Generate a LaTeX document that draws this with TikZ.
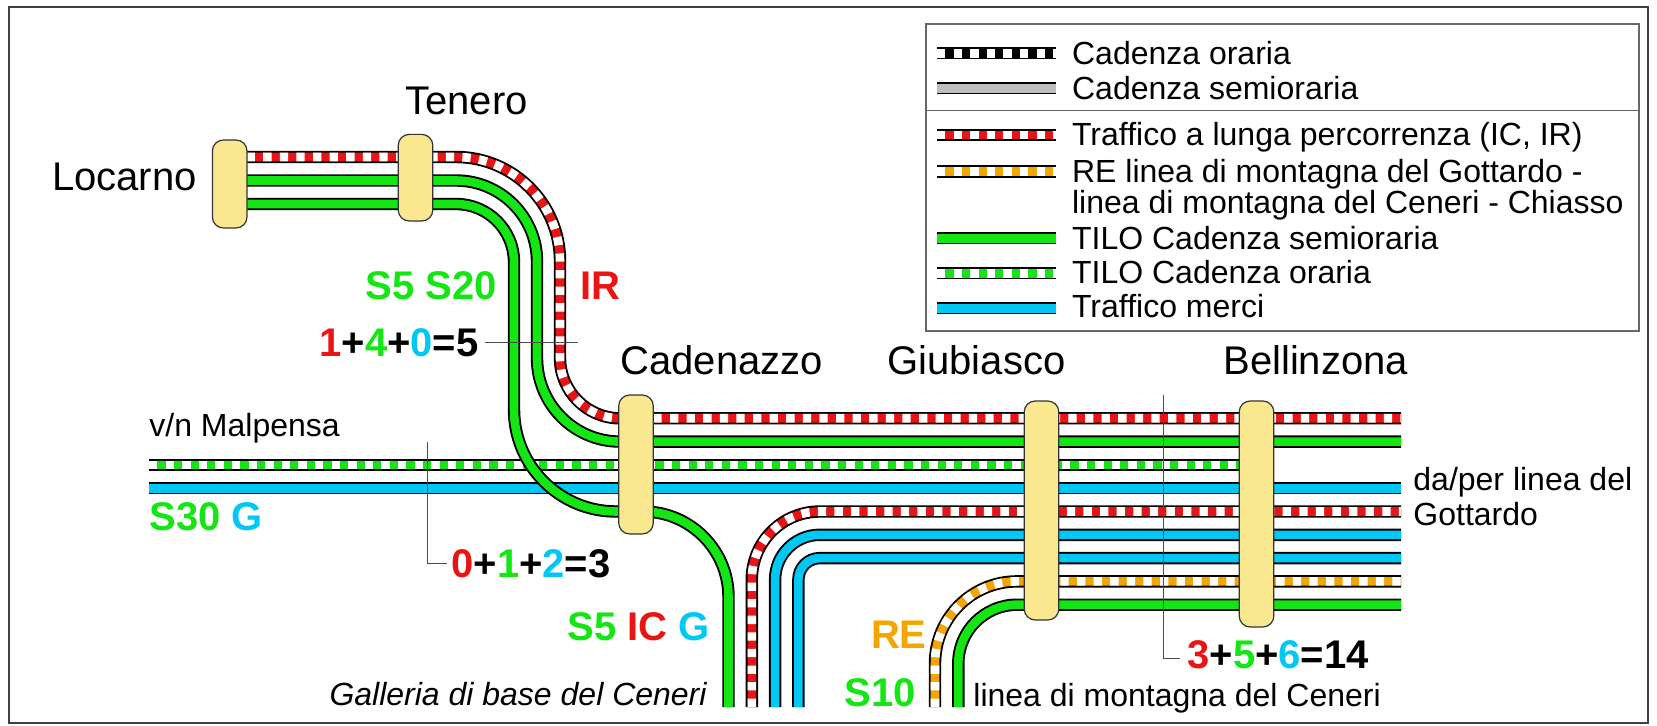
\documentclass[tikz,border=0pt]{standalone}
\usepackage{fontspec}
\setmainfont{Liberation Sans}
\definecolor{tred}{RGB}{235,20,20}
\definecolor{tgreen}{RGB}{20,230,20}
\definecolor{tblue}{RGB}{0,200,245}
\definecolor{torange}{RGB}{245,165,0}
\definecolor{tgray}{RGB}{190,190,190}
\definecolor{stnfill}{RGB}{250,232,145}
\begin{document}
\begin{tikzpicture}[x=0.5pt,y=-0.5pt,
  line/.style={line width=6.2pt, black, postaction={draw=#1, line width=4.3pt}},
  dline/.style={line width=6.2pt, black, postaction={draw=#1, line width=4.3pt,
    postaction={draw=white, line width=4.3pt, dash pattern=on 4.15pt off 4.15pt}}},
  stn/.style={draw=black!80, fill=stnfill, rounded corners=5.5pt, minimum width=17.3pt, inner sep=0pt, line width=0.6pt},
  lbl/.style={inner sep=0pt, anchor=base west, font=\fontsize{20pt}{24pt}\selectfont},
  bld/.style={inner sep=0pt, anchor=base west, font=\fontsize{20pt}{24pt}\selectfont\bfseries},
  sml/.style={inner sep=0pt, anchor=base west, font=\fontsize{16pt}{19pt}\selectfont},
  lead/.style={draw=black!70, line width=0.5pt}]
\useasboundingbox (0,0) rectangle (1657,726);
\draw[draw=black!75, line width=0.8pt] (9,7) rectangle (1648,723);

\draw[dline=tgreen] (149,464.9) -- (1256,464.9);
\draw[line=tblue] (149,488.2) -- (1401,488.2);
\draw[dline=tred] (230,157) -- (456,157) .. controls (513.4,157) and (560,203.6) .. (560,261) -- (560,358) .. controls (560,391.1) and (586.9,418.3) .. (620,418.3) -- (1401,418.3);
\draw[line=tgreen] (230,180.5) -- (456,180.5) .. controls (500.7,180.5) and (537,216.8) .. (537,261.5) -- (537,358) .. controls (537,404.2) and (574.2,441.6) .. (620,441.6) -- (1401,441.6);
\draw[line=tgreen] (230,204) -- (456,204) .. controls (488,204) and (514,230) .. (514,262) -- (514,409.5) .. controls (514,465.8) and (559.7,511.5) .. (616,511.5) -- (643,511.5) .. controls (690.2,511.5) and (728.5,549.8) .. (728.5,597) -- (728.5,707);
\draw[dline=tred] (751.8,707) -- (751.8,579.5) .. controls (751.8,541.9) and (782.2,511.5) .. (819.8,511.5) -- (1401,511.5);
\draw[line=tblue] (775.1,707) -- (775.1,579.5) .. controls (775.1,554.8) and (795.1,534.8) .. (819.8,534.8) -- (1401,534.8);
\draw[line=tblue] (798.4,707) -- (798.4,579.5) .. controls (798.4,567.7) and (808,558.1) .. (819.8,558.1) -- (1401,558.1);
\draw[dline=torange] (935,707) -- (935,663.4) .. controls (935,618.1) and (971.7,581.4) .. (1017,581.4) -- (1401,581.4);
\draw[line=tgreen] (958.3,707) -- (958.3,663.4) .. controls (958.3,631) and (984.6,604.7) .. (1017,604.7) -- (1401,604.7);

\node[stn, minimum height=44pt] (loc) at (229.7,184){};
\node[stn, minimum height=43.3pt] (ten) at (415.5,177.7){};
\node[stn, minimum height=69.5pt] (cad) at (636,464.5){};
\node[stn, minimum height=109.5pt] (giu) at (1041.5,510.5){};
\node[stn, minimum height=113pt] (bel) at (1256.5,514){};

\node[lbl] (locl) at (51.7,190.7){Locarno};
\node[lbl] (tenl) at (405,115){Tenero};
\node[lbl] (cadl) at (620,375){Cadenazzo};
\node[lbl] (giul) at (887,375){Giubiasco};
\node[lbl] (bell) at (1223,375){Bellinzona};

\node[bld, tgreen] (s520) at (365,300){S5 S20};
\node[bld, tred] (ir) at (580,300){IR};
\node[bld] (sum1) at (319,357){\textcolor{tred}{1}+\textcolor{tgreen}{4}+\textcolor{tblue}{0}=5};
\node[bld] (sum2) at (451,577){\textcolor{tred}{0}+\textcolor{tgreen}{1}+\textcolor{tblue}{2}=3};
\node[bld] (sum3) at (1187,668){\textcolor{tred}{3}+\textcolor{tgreen}{5}+\textcolor{tblue}{6}=14};
\node[sml] (mxp) at (149,436.7){v/n Malpensa};
\node[bld] (s30) at (149,530){\textcolor{tgreen}{S30} \textcolor{tblue}{G}};
\node[bld, anchor=base east] (s5ic) at (710,640){\textcolor{tgreen}{S5} \textcolor{tred}{IC} \textcolor{tblue}{G}};
\node[bld, torange, anchor=base east] (re) at (927,648){RE};
\node[bld, tgreen, anchor=base east] (s10) at (916,706.7){S10};
\node[sml, anchor=base east, font=\fontsize{16pt}{19pt}\selectfont\itshape] (gbc) at (707,705){Galleria di base del Ceneri};
\node[sml] (lmc) at (973,706){linea di montagna del Ceneri};
\node[sml] (gott1) at (1413,490){da/per linea del};
\node[sml] (gott2) at (1413,525){Gottardo};

\coordinate (c1a) at (485,342.7);
\coordinate (c1b) at (577.7,342.7);
\draw[lead] (c1a) -- (c1b);
\coordinate (c2a) at (427,442);
\coordinate (c2b) at (447,563);
\draw[lead] (c2a) |- (c2b);
\coordinate (c3a) at (1163.3,395);
\coordinate (c3b) at (1180,658);
\draw[lead] (c3a) |- (c3b);

\draw[draw=black!60, line width=0.8pt] (925.7,24) rectangle (1639,331);
\draw[draw=black!60, line width=0.8pt] (925.7,110.7) -- (1639,110.7);
\draw[dline=black] (937,53.3) -- (1055.7,53.3);
\draw[line=tgray] (937,88.3) -- (1055.7,88.3);
\draw[dline=tred] (937,135) -- (1055.7,135);
\draw[dline=torange] (937,171.7) -- (1055.7,171.7);
\draw[line=tgreen] (937,238.3) -- (1055.7,238.3);
\draw[dline=tgreen] (937,273.3) -- (1055.7,273.3);
\draw[line=tblue] (937,308.3) -- (1055.7,308.3);
\node[sml] (lg1) at (1071.7,65){Cadenza oraria};
\node[sml] (lg2) at (1071.7,99.3){Cadenza semioraria};
\node[sml] (lg3) at (1071.7,145.7){Traffico a lunga percorrenza (IC, IR)};
\node[sml] (lg4) at (1071.7,182.7){RE linea di montagna del Gottardo -};
\node[sml] (lg5) at (1071.7,213.3){linea di montagna del Ceneri - Chiasso};
\node[sml] (lg6) at (1071.7,249.3){TILO Cadenza semioraria};
\node[sml] (lg7) at (1071.7,283.3){TILO Cadenza oraria};
\node[sml] (lg8) at (1071.7,317.7){Traffico merci};
\end{tikzpicture}
\end{document}
